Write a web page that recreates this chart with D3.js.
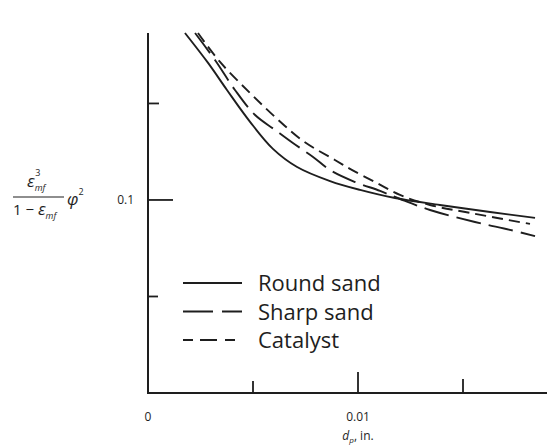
<!DOCTYPE html>
<html>
<head>
<meta charset="utf-8">
<script src="https://cdn.jsdelivr.net/npm/d3@7"></script>
<style>
body { margin: 0; background: #fff; }
svg text { font-family: "Open Sans", "Noto Sans", sans-serif; fill: #1e1e1e; }
</style>
</head>
<body>
<div id="chart"></div>
<script>

// d_p (in.) values and the bed property
var roundX = [0.00176, 0.00286, 0.00376, 0.00486, 0.00595, 0.00710, 0.00867, 0.01010, 0.01176, 0.01390, 0.01629, 0.01843];
var roundY = [0.1865, 0.1710, 0.1570, 0.1405, 0.1265, 0.1171, 0.1098, 0.1052, 0.1010, 0.0974, 0.0938, 0.0907];

var sharpX = [0.00224, 0.00319, 0.00414, 0.00510, 0.00605, 0.00690, 0.00786, 0.00867, 0.00986, 0.01105, 0.01200, 0.01343, 0.01557, 0.01724, 0.01843];
var sharpY = [0.1865, 0.1725, 0.1570, 0.1440, 0.1363, 0.1295, 0.1223, 0.1155, 0.1093, 0.1047, 0.1005, 0.0948, 0.0886, 0.0845, 0.0813];

var catX = [0.00238, 0.00343, 0.00486, 0.00610, 0.00738, 0.00890, 0.00962, 0.01081, 0.01200, 0.01343, 0.01533, 0.01819];
var catY = [0.1865, 0.1715, 0.1554, 0.1425, 0.1306, 0.1207, 0.1161, 0.1093, 0.1026, 0.0974, 0.0933, 0.0876];

var legendNames = ['Round sand', 'Sharp sand', 'Catalyst'];
var dashes = [null, '25,8', '11,6'];

var xTicks = [0.005, 0.01, 0.015];
var xTickLen = [12, 21, 14];
var yTicks = [0.05, 0.1, 0.15];
var yTickLen = [10, 25, 11];

var width = 547, height = 446;

var svg = d3.select('#chart').append('svg')
	.attr('width', width)
	.attr('height', height);

var x = d3.scaleLinear().domain([0, 0.019]).range([148, 547]);
var y = d3.scaleLinear().domain([0, 0.1865]).range([393, 33]);

var ink = '#1e1e1e';

// axes
svg.append('line')
	.attr('x1', x(0)).attr('x2', x(0))
	.attr('y1', y(0.1865)).attr('y2', y(0) + 1)
	.style('stroke', ink).style('stroke-width', 2);

svg.append('line')
	.attr('x1', x(0) - 1).attr('x2', width)
	.attr('y1', y(0)).attr('y2', y(0))
	.style('stroke', ink).style('stroke-width', 2);

svg.selectAll('.xtick').data(xTicks)
	.enter().append('line').classed('xtick', true)
	.attr('x1', function(d){ return x(d); })
	.attr('x2', function(d){ return x(d); })
	.attr('y1', y(0))
	.attr('y2', function(d, i){ return y(0) - xTickLen[i]; })
	.style('stroke', ink).style('stroke-width', 1.8);

svg.selectAll('.ytick').data(yTicks)
	.enter().append('line').classed('ytick', true)
	.attr('x1', x(0))
	.attr('x2', function(d, i){ return x(0) + yTickLen[i]; })
	.attr('y1', function(d){ return y(d); })
	.attr('y2', function(d){ return y(d); })
	.style('stroke', ink).style('stroke-width', 1.8);

// tick labels
svg.append('text').attr('x', x(0)).attr('y', 421)
	.attr('text-anchor', 'middle').style('font-size', '12px').text('0');
svg.append('text').attr('x', x(0.01)).attr('y', 421)
	.attr('text-anchor', 'middle').style('font-size', '12px').text('0.01');
svg.append('text').attr('x', 134).attr('y', y(0.1) + 4)
	.attr('text-anchor', 'end').style('font-size', '12px').text('0.1');

// x axis title
var xt = svg.append('text').attr('x', x(0.01)).attr('y', 440)
	.attr('text-anchor', 'middle').style('font-size', '12px');
xt.append('tspan').style('font-style', 'italic').text('d');
xt.append('tspan').attr('dy', 3).style('font-size', '8px').style('font-style', 'italic').text('p');
xt.append('tspan').attr('dy', -3).text(', in.');

// y axis title (fraction)
var num = svg.append('text').attr('x', 27).attr('y', 187).style('font-size', '17px');
num.append('tspan').style('font-style', 'italic').text('ε');
num.append('tspan').attr('dy', 4).style('font-size', '9px').style('font-style', 'italic').text('mf');
num.append('tspan').attr('dx', -10).attr('dy', -15).style('font-size', '9px').text('3');

svg.append('line').attr('x1', 13).attr('x2', 64).attr('y1', 197).attr('y2', 197)
	.style('stroke', ink).style('stroke-width', 1.2);

var den = svg.append('text').attr('x', 13).attr('y', 215).style('font-size', '15px');
den.append('tspan').text('1 − ');
den.append('tspan').style('font-style', 'italic').style('font-size', '17px').text('ε');
den.append('tspan').attr('dy', 4).style('font-size', '9px').style('font-style', 'italic').text('mf');

var phi = svg.append('text').attr('x', 67).attr('y', 205).style('font-size', '17px');
phi.append('tspan').style('font-style', 'italic').text('φ');
phi.append('tspan').attr('dy', -10).style('font-size', '9px').text('2');

// curves
var line = d3.line()
	.x(function(d){ return x(d[0]); })
	.y(function(d){ return y(d[1]); })
	.curve(d3.curveCatmullRom.alpha(0.5));

var series = [d3.zip(roundX, roundY), d3.zip(sharpX, sharpY), d3.zip(catX, catY)];

svg.selectAll('.curve').data(series)
	.enter().append('path').classed('curve', true)
	.attr('d', line)
	.style('fill', 'none')
	.style('stroke', ink)
	.style('stroke-width', 1.9)
	.style('stroke-dasharray', function(d, i){ return dashes[i]; });

// legend
var leg = svg.selectAll('.leg').data(legendNames)
	.enter().append('g').classed('leg', true)
	.attr('transform', function(d, i){ return 'translate(183,' + (283 + i * 28.5) + ')'; });

leg.append('line')
	.attr('x1', 0).attr('x2', 59).attr('y1', 0).attr('y2', 0)
	.style('stroke', ink).style('stroke-width', 1.9)
	.style('stroke-dasharray', function(d, i){ return i == 1 ? '30,9' : (i == 2 ? '10,7,17,8' : null); });

leg.append('text')
	.attr('x', 75).attr('y', 8)
	.style('font-size', '22px')
	.text(function(d){ return d; });

</script>
</body>
</html>
